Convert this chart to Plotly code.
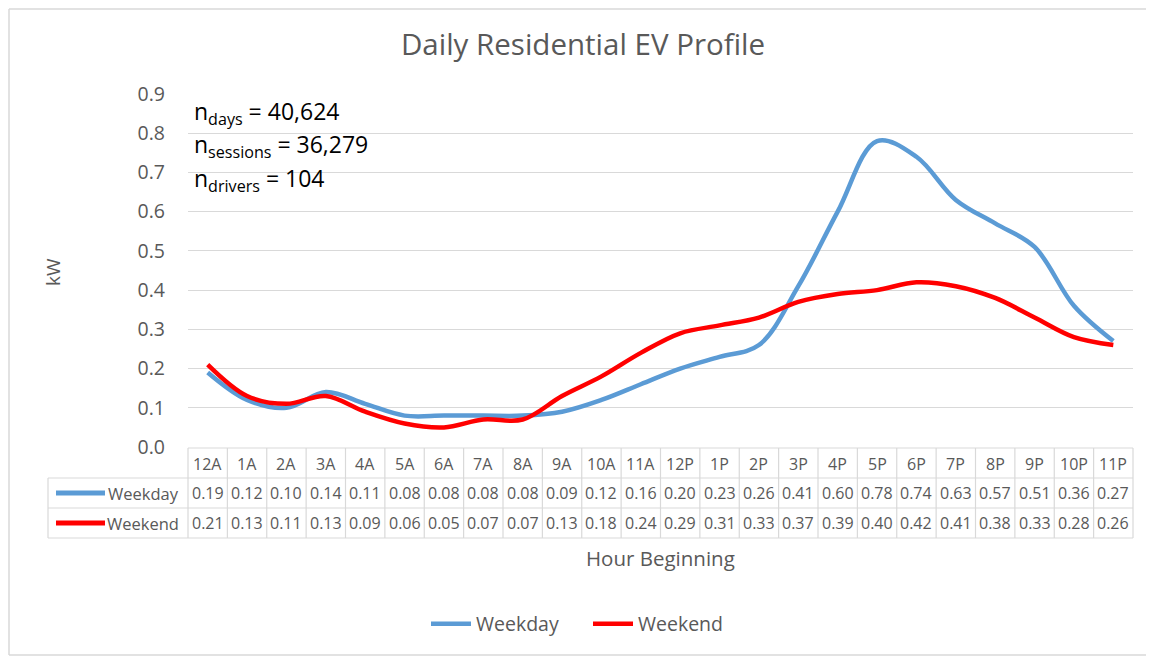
import plotly.graph_objects as go

hours = ["12A", "1A", "2A", "3A", "4A", "5A", "6A", "7A", "8A", "9A", "10A", "11A",
         "12P", "1P", "2P", "3P", "4P", "5P", "6P", "7P", "8P", "9P", "10P", "11P"]
weekday = [0.19, 0.12, 0.10, 0.14, 0.11, 0.08, 0.08, 0.08, 0.08, 0.09, 0.12, 0.16,
           0.20, 0.23, 0.26, 0.41, 0.60, 0.78, 0.74, 0.63, 0.57, 0.51, 0.36, 0.27]
weekend = [0.21, 0.13, 0.11, 0.13, 0.09, 0.06, 0.05, 0.07, 0.07, 0.13, 0.18, 0.24,
           0.29, 0.31, 0.33, 0.37, 0.39, 0.40, 0.42, 0.41, 0.38, 0.33, 0.28, 0.26]
series_names = ["Weekday", "Weekend"]
series_colors = ["#5B9BD5", "#FF0000"]
stats_lines = ["n<sub>days</sub> = 40,624", "n<sub>sessions</sub> = 36,279", "n<sub>drivers</sub> = 104"]

FONT = "Open Sans"
GRAY = "#595959"
GRID = "#d9d9d9"

OFF = 8  # page body margin
W, H = 1154 - OFF, 657 - OFF
L, T = 188 - OFF, 94 - OFF
R = W - (1133 - OFF)
B = H - (447 - OFF)
PW, PH = W - L - R, H - T - B

def px_x(px):
    return (px - OFF - L) / PW

def px_y(py):
    return (H - B - (py - OFF)) / PH

fig = go.Figure()
for name, vals, col in zip(series_names, [weekday, weekend], series_colors):
    fig.add_trace(go.Scatter(x=hours, y=vals, name=name, mode="lines",
                             line=dict(color=col, width=4.5, shape="spline", smoothing=1)))

shapes = []
annotations = []
n = len(hours)

# chart border (left, top, bottom)
border = dict(color="#d9d9d9", width=1.5)
bx0, bx1, by0, by1 = px_x(9), px_x(1160), px_y(655), px_y(9)
shapes.append(dict(type="line", xref="paper", yref="paper", x0=bx0, x1=bx0, y0=by0, y1=by1, line=border, layer="below"))
shapes.append(dict(type="line", xref="paper", yref="paper", x0=bx0, x1=bx1, y0=by1, y1=by1, line=border, layer="below"))
shapes.append(dict(type="line", xref="paper", yref="paper", x0=bx0, x1=bx1, y0=by0, y1=by0, line=border, layer="below"))

# stats text box (white background covering gridlines)
shapes.append(dict(type="rect", xref="paper", yref="paper",
                   x0=px_x(189), x1=px_x(414), y0=px_y(268), y1=px_y(88),
                   fillcolor="white", line=dict(width=0), layer="between"))
for i, s in enumerate(stats_lines):
    annotations.append(dict(text=s, xref="paper", yref="paper", x=px_x(192), y=px_y(112 + 33.5 * i),
                            xanchor="left", yanchor="middle", showarrow=False,
                            font=dict(family=FONT, size=23, color="black")))

# data table
y_hdr_top, y_r1_top, y_r2_top, y_bot = px_y(448), px_y(478), px_y(508), px_y(538)
tbl_left = px_x(48)
line_style = dict(color=GRID, width=1.2)
for yy, x0 in [(y_hdr_top, 0), (y_r1_top, tbl_left), (y_r2_top, tbl_left), (y_bot, tbl_left)]:
    shapes.append(dict(type="line", xref="paper", yref="paper", x0=x0, x1=1, y0=yy, y1=yy, line=line_style))
for k in range(n + 1):
    shapes.append(dict(type="line", xref="paper", yref="paper", x0=k / n, x1=k / n,
                       y0=y_hdr_top, y1=y_bot, line=line_style))
shapes.append(dict(type="line", xref="paper", yref="paper", x0=tbl_left, x1=tbl_left,
                   y0=y_r1_top, y1=y_bot, line=line_style))

cell_font = dict(family=FONT, size=16, color=GRAY)
row_centers = [px_y(464), px_y(493), px_y(523)]
for h in hours:
    annotations.append(dict(text=h, xref="x", yref="paper", x=h, y=row_centers[0],
                            xanchor="center", yanchor="middle", showarrow=False, font=cell_font))
for r, (name, vals, col) in enumerate(zip(series_names, [weekday, weekend], series_colors)):
    yc = row_centers[r + 1]
    for h, v in zip(hours, vals):
        annotations.append(dict(text=f"{v:.2f}", xref="x", yref="paper", x=h, y=yc,
                                xanchor="center", yanchor="middle", showarrow=False, font=cell_font))
    annotations.append(dict(text=name, xref="paper", yref="paper", x=px_x(181), y=yc,
                            xanchor="right", yanchor="middle", showarrow=False,
                            font=dict(family=FONT, size=16.5, color=GRAY)))
    shapes.append(dict(type="line", xref="paper", yref="paper", x0=px_x(56), x1=px_x(105),
                       y0=yc, y1=yc, line=dict(color=col, width=5)))

# axis titles
annotations.append(dict(text="kW", xref="paper", yref="paper", x=px_x(53), y=px_y(272),
                        xanchor="center", yanchor="middle",
                        textangle=-90, showarrow=False, font=dict(family=FONT, size=19, color=GRAY)))
annotations.append(dict(text="Hour Beginning", xref="paper", yref="paper", x=px_x(660), y=px_y(558),
                        xanchor="center", yanchor="middle",
                        showarrow=False, font=dict(family=FONT, size=20.5, color=GRAY)))

fig.update_layout(
    width=W, height=H,
    margin=dict(l=L, r=R, t=T, b=B, autoexpand=False),
    paper_bgcolor="white", plot_bgcolor="white",
    title=dict(text="Daily Residential EV Profile", x=px_x(583), xref="paper", xanchor="center",
               y=1 - (45 - OFF) / H, yref="container", yanchor="middle",
               font=dict(family=FONT, size=29.5, color=GRAY)),
    xaxis=dict(range=[-0.5, n - 0.5], showticklabels=False, showgrid=False, zeroline=False,
               showline=False, ticks=""),
    yaxis=dict(range=[0, 0.9], dtick=0.1, tickformat=".1f", showgrid=True, gridcolor=GRID,
               gridwidth=1.2, zeroline=False, showline=False, ticks="", ticklabelstandoff=22,
               tickfont=dict(family=FONT, size=19.5, color=GRAY)),
    legend=dict(orientation="h", xref="paper", x=px_x(588), xanchor="center", y=px_y(624),
                yanchor="middle", font=dict(family=FONT, size=19.5, color=GRAY), itemwidth=40,
                entrywidth=107, traceorder="normal"),
    shapes=shapes, annotations=annotations,
)
fig.write_html("out.html")
